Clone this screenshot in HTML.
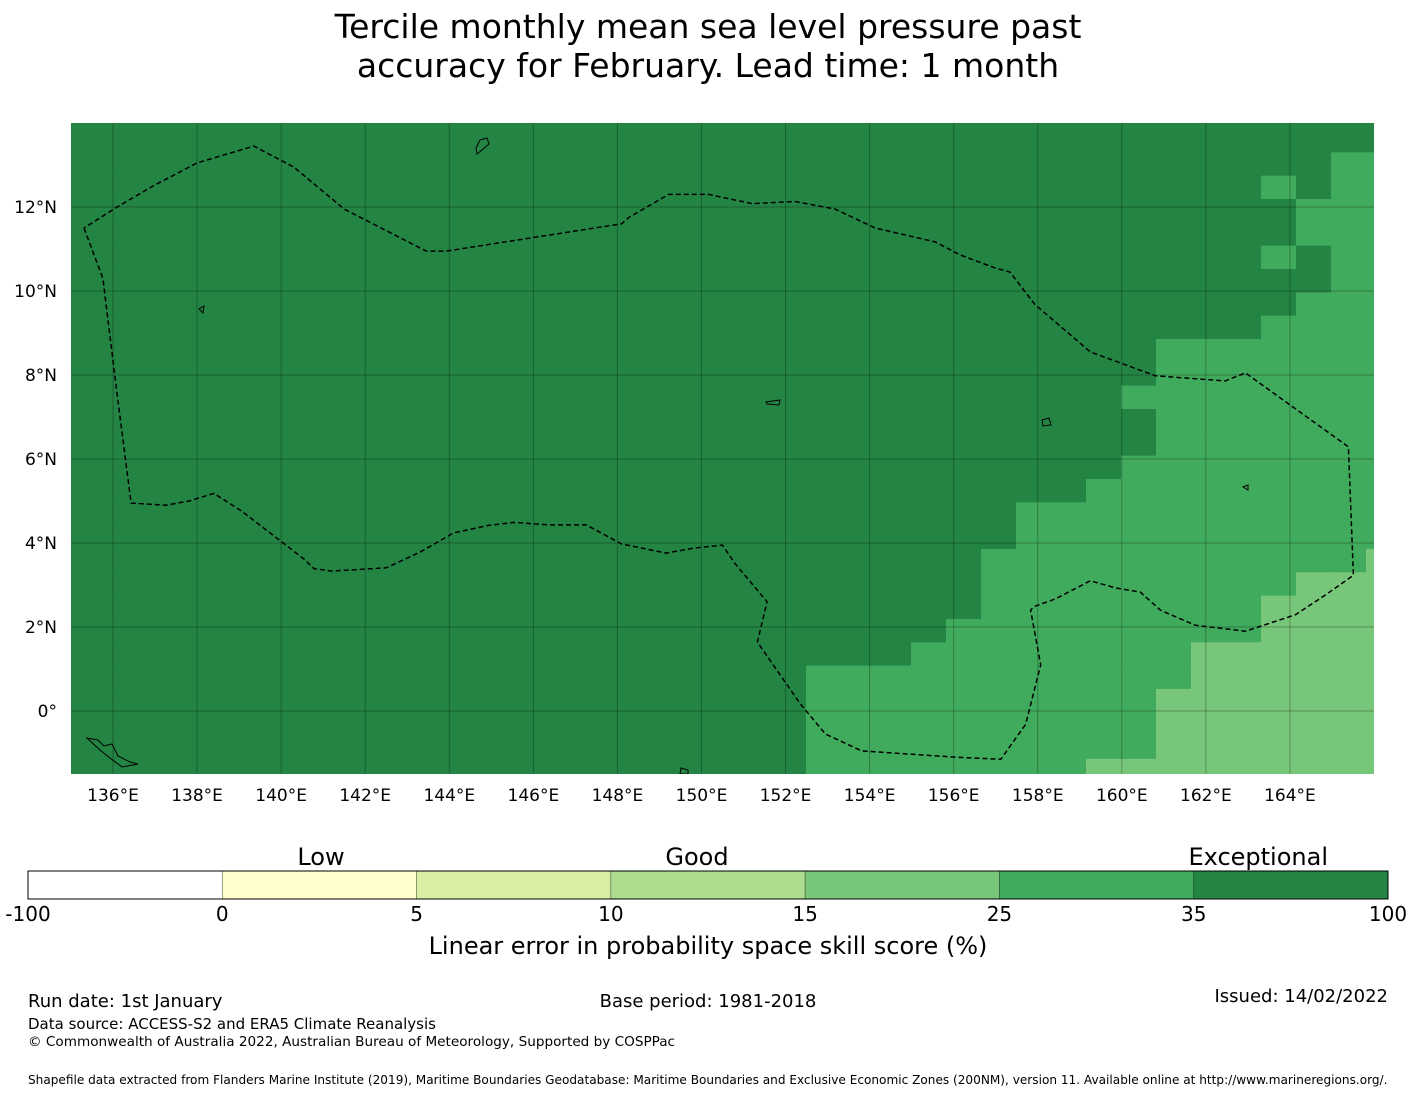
<!DOCTYPE html>
<html><head><meta charset="utf-8">
<style>
body{margin:0;background:#fff;width:1416px;height:1095px;overflow:hidden;font-family:"Liberation Sans","DejaVu Sans",sans-serif;}
svg text{font-family:"DejaVu Sans","Liberation Sans",sans-serif;}
</style></head>
<body>
<svg id="chart" width="1416" height="1095" xmlns="http://www.w3.org/2000/svg">
<text x="708" y="38" font-size="33" text-anchor="middle">Tercile monthly mean sea level pressure past</text>
<text x="708" y="77" font-size="33" text-anchor="middle">accuracy for February. Lead time: 1 month</text>
<g id="map"></g>
<g id="cbar"></g>
<text x="28" y="1007" font-size="18">Run date: 1st January</text>
<text x="708" y="1007" font-size="18" text-anchor="middle">Base period: 1981-2018</text>
<text x="1388" y="1002" font-size="18" text-anchor="end">Issued: 14/02/2022</text>
<text x="28" y="1029" font-size="15">Data source: ACCESS-S2 and ERA5 Climate Reanalysis</text>
<text x="28" y="1046" font-size="13.6">© Commonwealth of Australia 2022, Australian Bureau of Meteorology, Supported by COSPPac</text>
<text x="28" y="1084" font-size="12.1">Shapefile data extracted from Flanders Marine Institute (2019), Maritime Boundaries Geodatabase: Maritime Boundaries and Exclusive Economic Zones (200NM), version 11. Available online at http://www.marineregions.org/.</text>
</svg>
<script>
// Skill categories per grid row (top to bottom), one char per column (west to east)
// D = 35-100, M = 25-35, L = 15-25
const skillRows = [
"DDDDDDDDDDDDDDDDDDDDDDDDDDDDDDDDDDDDDD",
"DDDDDDDDDDDDDDDDDDDDDDDDDDDDDDDDDDDDDD",
"DDDDDDDDDDDDDDDDDDDDDDDDDDDDDDDDDDDDMM",
"DDDDDDDDDDDDDDDDDDDDDDDDDDDDDDDDDDMDMM",
"DDDDDDDDDDDDDDDDDDDDDDDDDDDDDDDDDDDMMM",
"DDDDDDDDDDDDDDDDDDDDDDDDDDDDDDDDDDDMMM",
"DDDDDDDDDDDDDDDDDDDDDDDDDDDDDDDDDDMDMM",
"DDDDDDDDDDDDDDDDDDDDDDDDDDDDDDDDDDDDMM",
"DDDDDDDDDDDDDDDDDDDDDDDDDDDDDDDDDDDMMM",
"DDDDDDDDDDDDDDDDDDDDDDDDDDDDDDDDDDMMMM",
"DDDDDDDDDDDDDDDDDDDDDDDDDDDDDDDMMMMMMM",
"DDDDDDDDDDDDDDDDDDDDDDDDDDDDDDDMMMMMMM",
"DDDDDDDDDDDDDDDDDDDDDDDDDDDDDDMMMMMMMM",
"DDDDDDDDDDDDDDDDDDDDDDDDDDDDDDDMMMMMMM",
"DDDDDDDDDDDDDDDDDDDDDDDDDDDDDDDMMMMMMM",
"DDDDDDDDDDDDDDDDDDDDDDDDDDDDDDMMMMMMMM",
"DDDDDDDDDDDDDDDDDDDDDDDDDDDDDMMMMMMMMM",
"DDDDDDDDDDDDDDDDDDDDDDDDDDDMMMMMMMMMMM",
"DDDDDDDDDDDDDDDDDDDDDDDDDDDMMMMMMMMMMM",
"DDDDDDDDDDDDDDDDDDDDDDDDDDMMMMMMMMMMML",
"DDDDDDDDDDDDDDDDDDDDDDDDDDMMMMMMMMMLLL",
"DDDDDDDDDDDDDDDDDDDDDDDDDDMMMMMMMMLLLL",
"DDDDDDDDDDDDDDDDDDDDDDDDDMMMMMMMMMLLLL",
"DDDDDDDDDDDDDDDDDDDDDDDDMMMMMMMMLLLLLL",
"DDDDDDDDDDDDDDDDDDDDDMMMMMMMMMMMLLLLLL",
"DDDDDDDDDDDDDDDDDDDDDMMMMMMMMMMLLLLLLL",
"DDDDDDDDDDDDDDDDDDDDDMMMMMMMMMMLLLLLLL",
"DDDDDDDDDDDDDDDDDDDDDMMMMMMMMMMLLLLLLL",
"DDDDDDDDDDDDDDDDDDDDDMMMMMMMMLLLLLLLLL"
];
const lonTicks = [136,138,140,142,144,146,148,150,152,154,156,158,160,162,164];
const latTicks = [12,10,8,6,4,2,0];
const cbarBounds = ["-100","0","5","10","15","25","35","100"];
const cbarColors = ["#ffffff","#ffffcc","#d9f0a3","#addd8e","#78c679","#41ab5d","#238443"];
const eezLon = [135.31,135.76,136.09,136.43,137.26,137.81,138.4,139.06,140.54,140.78,141.2,142.5,143.3,144.1,144.93,145.54,146.38,147.26,148.09,149.16,149.83,150.5,150.79,151.56,151.33,152.35,152.95,153.81,156.05,157.12,157.71,158.07,157.83,157.9,158.42,159.25,159.85,160.44,160.92,161.75,162.94,164.13,164.84,165.51,165.39,162.94,162.46,160.8,159.25,157.93,157.34,156.98,156.15,155.56,154.13,153.18,152.23,151.2,150.17,149.22,148.27,148.1,143.93,143.45,141.5,140.3,139.35,138.0,136.95,136.1,135.31];
const eezLat = [11.5,10.3,7.6,4.95,4.9,5.0,5.18,4.76,3.62,3.39,3.33,3.41,3.78,4.24,4.42,4.49,4.43,4.43,3.98,3.76,3.88,3.95,3.52,2.6,1.64,0.17,-0.55,-0.95,-1.1,-1.15,-0.32,1.1,2.4,2.48,2.67,3.1,2.93,2.83,2.4,2.04,1.9,2.29,2.76,3.23,6.29,8.05,7.86,7.98,8.55,9.68,10.45,10.55,10.86,11.17,11.5,11.95,12.13,12.08,12.3,12.3,11.75,11.6,10.95,10.95,11.95,12.95,13.45,13.05,12.5,12.0,11.5];

const NS="http://www.w3.org/2000/svg";
function mk(tag,attrs,parent){const e=document.createElementNS(NS,tag);for(const k in attrs)e.setAttribute(k,attrs[k]);parent.appendChild(e);return e;}
const X0=71,X1=1374,Y0=123,Y1=774;
const lonMin=135,lonMax=166,latMax=14,latMin=-1.5;
function xs(lon){return X0+(lon-lonMin)/(lonMax-lonMin)*(X1-X0);}
function ys(lat){return Y0+(latMax-lat)/(latMax-latMin)*(Y1-Y0);}
const map=document.getElementById('map');
const cols={D:"#238443",M:"#41ab5d",L:"#78c679"};
const cellW=35, cellH=23.33, gridTop=129-cellH;
const clip=mk('clipPath',{id:'mclip'},map);
mk('rect',{x:X0,y:Y0,width:X1-X0,height:Y1-Y0},clip);
const cells=mk('g',{'clip-path':'url(#mclip)'},map);


skillRows.forEach((row,r)=>{
  for(let c=0;c<row.length;c++){
    const el=mk('rect',{x:X0+c*cellW,y:gridTop+r*cellH,width:cellW+0.6,height:cellH+0.6,fill:cols[row[c]]},cells);
    
    
  }
});
lonTicks.forEach(l=>{
  const ln=mk('line',{x1:xs(l),x2:xs(l),y1:Y0,y2:Y1,stroke:"#000","stroke-opacity":0.28,"stroke-width":1},map);
  
  
  const t=mk('text',{x:xs(l),y:801,"font-size":17,"text-anchor":"middle"},map);
  t.textContent=l+"°E";
  
  
});
latTicks.forEach(l=>{
  const ln=mk('line',{x1:X0,x2:X1,y1:ys(l),y2:ys(l),stroke:"#000","stroke-opacity":0.28,"stroke-width":1},map);
  
  
  const t=mk('text',{x:57,y:ys(l)+6,"font-size":17,"text-anchor":"end"},map);
  t.textContent=l===0?"0°":l+"°N";
  
  
});
let pts=eezLon.map((lo,i)=>xs(lo).toFixed(1)+","+ys(eezLat[i]).toFixed(1)).join(" ");
const eez=mk('polyline',{points:pts,fill:"none",stroke:"#000","stroke-width":1.5,"stroke-dasharray":"5,3","stroke-linejoin":"round"},map);


const isl=mk('g',{fill:"none",stroke:"#000","stroke-width":1,'clip-path':'url(#mclip)'},map);


mk('path',{d:"M87,738 L98,740 L104,746 L112,744 L118,756 L130,762 L138,764 L122,767 L110,758 L100,750 Z"},isl);
mk('path',{d:"M480,140 L487,138 L489,144 L482,150 L477,154 L476,148 Z"},isl);
mk('path',{d:"M1042,420 L1049,418 L1051,425 L1043,426 Z"},isl);
mk('path',{d:"M199,309 L204,306 L203,313 Z"},isl);
mk('path',{d:"M766,402 L780,400 L779,405 L767,404 Z"},isl);
mk('path',{d:"M681,768 L688,770 L688,774 L680,774 Z"},isl);
mk('path',{d:"M1243,487 L1248,485 L1248,490 Z"},isl);
const cb=document.getElementById('cbar');
const CX0=28,CX1=1388,CY=871,CH=28,segW=(CX1-CX0)/cbarColors.length;
cbarColors.forEach((c,i)=>{
  const r=mk('rect',{x:CX0+i*segW,y:CY,width:segW,height:CH,fill:c,stroke:"#000","stroke-width":0.6,"stroke-opacity":0.5},cb);
  
  
});
mk('rect',{x:CX0,y:CY,width:CX1-CX0,height:CH,fill:"none",stroke:"#000","stroke-width":1},cb);
cbarBounds.forEach((b,i)=>{
  const t=mk('text',{x:CX0+i*segW,y:921,"font-size":20,"text-anchor":"middle"},cb);
  t.textContent=b;
  
  
});
[["Low",321,"middle"],["Good",697,"middle"],["Exceptional",1328,"end"]].forEach(([n,x,a])=>{
  const t=mk('text',{x:x,y:865,"font-size":24,"text-anchor":a},cb);
  t.textContent=n;
  
  
});
const lbl=mk('text',{x:708,y:954,"font-size":24,"text-anchor":"middle"},cb);
lbl.textContent="Linear error in probability space skill score (%)";


</script>
</body></html>
